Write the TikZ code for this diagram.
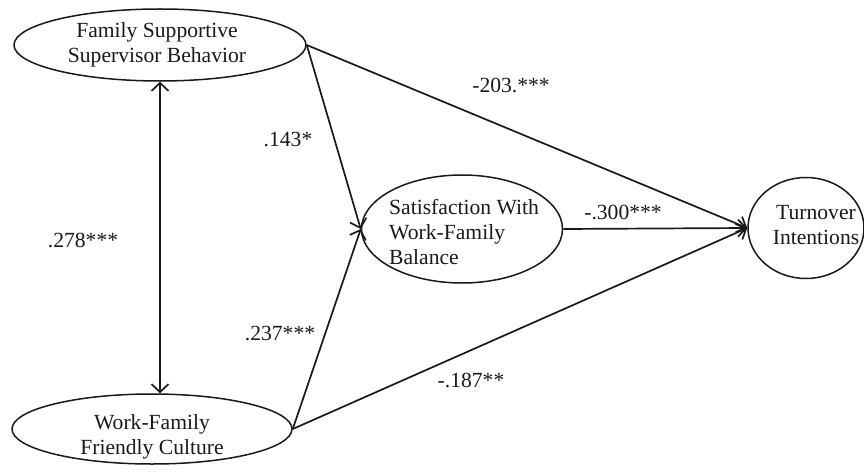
\documentclass[tikz,border=0pt]{standalone}
\usepackage{fontspec}
\setmainfont{Liberation Serif}
\usetikzlibrary{shapes.geometric,arrows.meta}
\begin{document}
\begin{tikzpicture}[x=1pt,y=-1pt,
  lat/.style={ellipse, draw=black!90, line width=1.5pt, inner sep=0pt},
  txt/.style={inner sep=0pt, text=black!90, font=\fontsize{21.6}{25}\selectfont, align=center},
  pth/.style={draw=black!90, line width=1.7pt, -{Straight Barb[length=8pt,width=17pt]}},
  coef/.style={inner sep=0pt, text=black!90, font=\fontsize{21.6}{25}\selectfont}]
\useasboundingbox (0,0) rectangle (864,473);
% latent variables
\node[lat, minimum width=292pt, minimum height=72pt] (fssb) at (160,45) {};
\node[lat, minimum width=280pt, minimum height=70pt] (wffc) at (152,429) {};
\node[lat, minimum width=201pt, minimum height=108pt] (swfb) at (462,229) {};
\node[lat, minimum width=116pt, minimum height=101pt] (ti) at (806,228) {};
% texts
\node[txt] (fssbT) at (157,45) {Family Supportive\\Supervisor Behavior};
\node[txt] (wffcT) at (152,437) {Work-Family\\Friendly Culture};
\node[txt, align=left, anchor=west] (swfbT) at (389,232) {Satisfaction With\\Work-Family\\Balance};
\node[txt] (tiT) at (816,225) {Turnover\\Intentions};
% paths
\draw[pth] (fssb.east) -- (swfb.west);
\draw[pth] (wffc.east) -- (swfb.west);
\draw[pth] (fssb.east) -- (ti.west);
\draw[pth] (wffc.east) -- (ti.west);
\draw[pth] (swfb.east) -- (ti.west);
\draw[pth, {Straight Barb[length=8pt,width=17pt]}-{Straight Barb[length=8pt,width=17pt]}] (fssb.south) -- (fssb.south |- wffc.north);
% coefficients
\node[coef] (c1) at (511,85) {-203.***};
\node[coef] (c2) at (288,140) {.143*};
\node[coef] (c3) at (83,240) {.278***};
\node[coef] (c4) at (623,212) {-.300***};
\node[coef] (c5) at (280,333) {.237***};
\node[coef] (c6) at (471,380) {-.187**};
\end{tikzpicture}
\end{document}
